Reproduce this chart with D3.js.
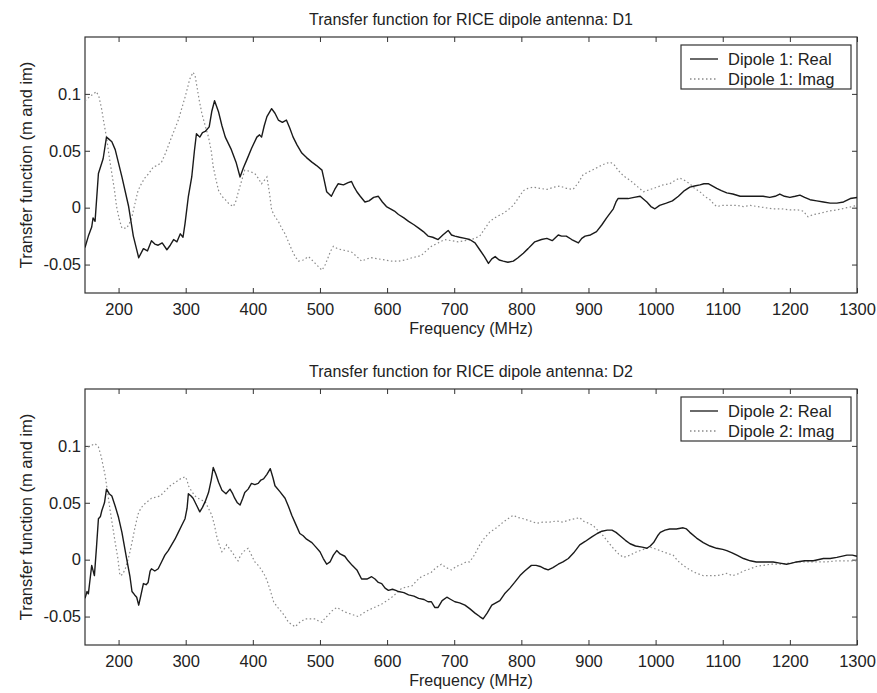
<!DOCTYPE html>
<html>
<head>
<meta charset="utf-8">
<script src="https://cdn.jsdelivr.net/npm/d3@7"></script>
<style>
  body { margin: 0; background: #fff; }
  svg { display: block; font-family: Arial, "Liberation Sans", sans-serif; }
</style>
</head>
<body>
<svg id="chart" width="877" height="693"></svg>
<script>
// ####################################################################################
// Data : [frequency MHz, transfer function]

var d1Real = [[150,-0.035],[155,-0.025],[160,-0.017],[162,-0.009],[165,-0.012],[170,0.030],[177,0.043],[182,0.062],[186,0.060],[190,0.058],[195,0.051],[205,0.027],[215,0.001],[222,-0.025],[230,-0.044],[237,-0.036],[243,-0.038],[249,-0.029],[254,-0.032],[259,-0.033],[265,-0.031],[272,-0.037],[277,-0.033],[282,-0.028],[287,-0.030],[292,-0.023],[296,-0.026],[299,-0.014],[304,0.010],[309,0.027],[313,0.050],[316,0.065],[321,0.062],[325,0.066],[329,0.067],[335,0.071],[339,0.085],[343,0.094],[349,0.084],[354,0.072],[359,0.062],[368,0.051],[375,0.040],[381,0.027],[386,0.035],[391,0.042],[398,0.052],[406,0.062],[410,0.064],[413,0.062],[417,0.072],[421,0.080],[428,0.087],[433,0.083],[438,0.077],[444,0.075],[450,0.077],[455,0.070],[460,0.062],[466,0.055],[473,0.048],[480,0.044],[488,0.040],[495,0.037],[503,0.033],[506,0.025],[510,0.014],[517,0.010],[522,0.016],[527,0.021],[535,0.020],[542,0.022],[547,0.023],[551,0.018],[555,0.014],[560,0.010],[567,0.005],[573,0.006],[580,0.009],[587,0.010],[593,0.005],[599,0.001],[605,-0.001],[611,-0.003],[617,-0.006],[625,-0.009],[632,-0.012],[640,-0.015],[647,-0.018],[654,-0.021],[661,-0.025],[668,-0.026],[676,-0.028],[683,-0.024],[691,-0.020],[696,-0.024],[701,-0.025],[708,-0.026],[716,-0.027],[723,-0.028],[731,-0.031],[738,-0.037],[745,-0.043],[751,-0.049],[756,-0.045],[761,-0.043],[767,-0.046],[773,-0.047],[780,-0.048],[788,-0.047],[795,-0.044],[803,-0.040],[810,-0.036],[815,-0.033],[820,-0.030],[830,-0.028],[838,-0.027],[846,-0.029],[855,-0.024],[860,-0.025],[867,-0.025],[875,-0.028],[885,-0.031],[890,-0.027],[895,-0.025],[903,-0.024],[912,-0.021],[920,-0.015],[927,-0.009],[932,-0.005],[937,-0.001],[941,0.005],[944,0.008],[950,0.008],[959,0.008],[968,0.009],[977,0.010],[983,0.007],[987,0.005],[993,0.001],[999,-0.001],[1006,0.002],[1016,0.004],[1025,0.006],[1034,0.010],[1043,0.015],[1051,0.018],[1058,0.019],[1066,0.020],[1072,0.021],[1079,0.021],[1085,0.019],[1091,0.017],[1098,0.015],[1106,0.013],[1115,0.012],[1126,0.010],[1140,0.010],[1150,0.010],[1160,0.010],[1170,0.009],[1178,0.010],[1185,0.012],[1192,0.010],[1200,0.009],[1208,0.010],[1215,0.011],[1222,0.009],[1230,0.007],[1240,0.006],[1250,0.005],[1260,0.004],[1270,0.004],[1280,0.005],[1290,0.008],[1300,0.009]];

var d1Imag = [[150,0.094],[158,0.098],[167,0.102],[171,0.097],[175,0.086],[178,0.075],[182,0.062],[186,0.045],[190,0.030],[194,0.015],[197,0.001],[201,-0.010],[205,-0.018],[212,-0.018],[216,-0.014],[220,-0.008],[225,0.005],[229,0.015],[234,0.021],[239,0.026],[245,0.030],[252,0.036],[258,0.037],[264,0.040],[270,0.048],[277,0.059],[283,0.068],[289,0.077],[294,0.087],[299,0.097],[303,0.106],[306,0.113],[311,0.119],[314,0.116],[316,0.109],[320,0.095],[324,0.083],[329,0.072],[334,0.062],[338,0.050],[341,0.036],[345,0.025],[349,0.015],[354,0.010],[359,0.007],[365,0.003],[371,0.001],[375,0.006],[378,0.013],[383,0.023],[388,0.033],[395,0.032],[403,0.030],[408,0.026],[413,0.021],[417,0.024],[421,0.027],[425,0.012],[428,-0.002],[433,-0.008],[438,-0.012],[443,-0.018],[448,-0.023],[453,-0.030],[458,-0.037],[463,-0.043],[468,-0.047],[475,-0.046],[483,-0.043],[488,-0.046],[493,-0.049],[498,-0.052],[503,-0.055],[508,-0.050],[512,-0.044],[516,-0.038],[520,-0.034],[526,-0.036],[532,-0.037],[540,-0.038],[547,-0.039],[555,-0.043],[562,-0.047],[570,-0.045],[577,-0.044],[587,-0.045],[597,-0.046],[607,-0.047],[617,-0.047],[627,-0.046],[637,-0.044],[645,-0.043],[651,-0.042],[658,-0.038],[666,-0.034],[676,-0.031],[686,-0.028],[696,-0.029],[706,-0.030],[716,-0.029],[726,-0.028],[738,-0.025],[745,-0.019],[753,-0.012],[763,-0.008],[773,-0.005],[780,-0.002],[788,0.002],[795,0.008],[803,0.015],[810,0.017],[818,0.018],[828,0.017],[838,0.016],[848,0.018],[857,0.019],[867,0.017],[877,0.016],[885,0.022],[892,0.029],[902,0.032],[912,0.035],[922,0.038],[932,0.040],[938,0.038],[944,0.033],[952,0.028],[962,0.024],[972,0.019],[982,0.014],[992,0.016],[1002,0.018],[1011,0.020],[1021,0.021],[1029,0.024],[1036,0.026],[1043,0.024],[1051,0.021],[1058,0.017],[1066,0.014],[1073,0.010],[1081,0.007],[1087,0.003],[1091,0.001],[1100,0.002],[1111,0.002],[1121,0.002],[1131,0.001],[1141,0.002],[1151,0.001],[1163,0.000],[1175,-0.001],[1188,-0.001],[1200,-0.002],[1212,-0.002],[1220,-0.003],[1227,-0.008],[1235,-0.006],[1245,-0.005],[1258,-0.003],[1270,-0.002],[1285,0.000],[1300,0.002]];

var d2Real = [[150,-0.034],[153,-0.028],[155,-0.030],[158,-0.015],[160,-0.005],[164,-0.014],[167,0.010],[170,0.036],[173,0.038],[175,0.043],[179,0.050],[182,0.062],[186,0.058],[190,0.056],[195,0.047],[200,0.037],[205,0.024],[212,0.001],[217,-0.015],[220,-0.028],[224,-0.031],[227,-0.033],[230,-0.040],[233,-0.032],[237,-0.021],[241,-0.022],[244,-0.020],[247,-0.010],[249,-0.008],[254,-0.010],[259,-0.008],[264,-0.002],[269,0.004],[274,0.008],[279,0.013],[284,0.018],[289,0.024],[294,0.030],[299,0.036],[302,0.045],[304,0.058],[308,0.056],[311,0.054],[316,0.048],[321,0.042],[325,0.046],[329,0.051],[334,0.059],[338,0.070],[341,0.081],[345,0.075],[349,0.068],[354,0.061],[360,0.058],[366,0.062],[370,0.058],[373,0.054],[377,0.050],[381,0.048],[385,0.054],[388,0.059],[393,0.062],[398,0.067],[403,0.066],[408,0.067],[412,0.070],[416,0.071],[421,0.075],[426,0.080],[430,0.072],[433,0.065],[440,0.060],[448,0.054],[453,0.047],[458,0.039],[464,0.031],[470,0.023],[475,0.021],[480,0.018],[488,0.015],[494,0.011],[500,0.007],[505,0.001],[510,-0.004],[515,-0.002],[520,0.004],[525,0.008],[530,0.005],[537,0.003],[542,-0.001],[548,-0.005],[555,-0.009],[562,-0.017],[570,-0.017],[577,-0.015],[582,-0.017],[587,-0.020],[592,-0.021],[597,-0.025],[602,-0.027],[608,-0.026],[613,-0.027],[617,-0.028],[625,-0.029],[632,-0.031],[640,-0.032],[647,-0.034],[655,-0.035],[661,-0.037],[666,-0.037],[671,-0.042],[676,-0.042],[682,-0.036],[689,-0.033],[695,-0.035],[701,-0.037],[708,-0.038],[716,-0.040],[723,-0.043],[731,-0.047],[738,-0.050],[743,-0.052],[749,-0.047],[756,-0.040],[762,-0.038],[768,-0.036],[775,-0.030],[783,-0.025],[790,-0.020],[798,-0.014],[805,-0.010],[815,-0.005],[822,-0.005],[828,-0.006],[835,-0.008],[840,-0.009],[847,-0.007],[855,-0.004],[862,-0.002],[870,0.001],[878,0.006],[887,0.013],[895,0.016],[905,0.020],[913,0.023],[920,0.025],[928,0.026],[935,0.026],[941,0.024],[947,0.021],[955,0.017],[962,0.014],[970,0.012],[980,0.011],[987,0.010],[992,0.012],[997,0.015],[1003,0.021],[1007,0.024],[1014,0.026],[1021,0.027],[1031,0.027],[1041,0.028],[1046,0.027],[1051,0.024],[1061,0.019],[1071,0.015],[1081,0.012],[1091,0.010],[1100,0.009],[1106,0.008],[1114,0.006],[1121,0.004],[1131,0.001],[1141,-0.001],[1150,-0.002],[1160,-0.002],[1175,-0.002],[1185,-0.003],[1195,-0.004],[1203,-0.003],[1210,-0.002],[1222,-0.001],[1235,-0.001],[1250,0.001],[1260,0.001],[1270,0.002],[1285,0.004],[1293,0.004],[1300,0.003]];

var d2Imag = [[150,0.097],[158,0.100],[165,0.102],[170,0.099],[174,0.091],[180,0.074],[184,0.058],[187,0.045],[191,0.030],[195,0.015],[199,0.001],[202,-0.014],[206,-0.013],[210,-0.008],[214,0.000],[217,0.007],[221,0.018],[224,0.027],[229,0.040],[233,0.045],[237,0.048],[243,0.051],[249,0.054],[256,0.055],[262,0.056],[267,0.059],[272,0.062],[277,0.065],[282,0.067],[287,0.069],[292,0.071],[296,0.072],[299,0.073],[302,0.070],[304,0.065],[309,0.060],[314,0.056],[321,0.053],[329,0.051],[334,0.045],[339,0.039],[343,0.030],[346,0.021],[350,0.013],[354,0.007],[358,0.010],[361,0.013],[366,0.009],[371,0.005],[375,0.001],[378,-0.001],[382,0.004],[386,0.007],[390,0.009],[393,0.010],[398,0.004],[403,-0.002],[408,-0.005],[413,-0.009],[417,-0.013],[421,-0.018],[426,-0.027],[431,-0.037],[437,-0.042],[443,-0.046],[448,-0.050],[453,-0.055],[458,-0.057],[463,-0.059],[470,-0.055],[478,-0.052],[485,-0.052],[493,-0.052],[498,-0.054],[503,-0.055],[508,-0.051],[512,-0.049],[518,-0.045],[525,-0.042],[531,-0.044],[537,-0.046],[547,-0.048],[557,-0.050],[567,-0.046],[577,-0.043],[585,-0.041],[592,-0.039],[600,-0.036],[607,-0.033],[615,-0.029],[622,-0.025],[630,-0.024],[637,-0.023],[645,-0.018],[651,-0.015],[659,-0.013],[666,-0.011],[673,-0.007],[681,-0.004],[688,-0.007],[696,-0.009],[703,-0.006],[711,-0.004],[718,-0.002],[723,-0.002],[730,0.004],[738,0.013],[745,0.019],[753,0.024],[763,0.028],[773,0.033],[780,0.036],[788,0.039],[795,0.037],[803,0.036],[813,0.034],[823,0.032],[832,0.033],[842,0.033],[852,0.034],[862,0.033],[872,0.035],[880,0.036],[887,0.037],[892,0.034],[900,0.032],[907,0.030],[915,0.025],[922,0.021],[930,0.015],[937,0.010],[945,0.005],[952,0.002],[962,0.004],[972,0.007],[982,0.009],[992,0.011],[1002,0.009],[1011,0.007],[1020,0.005],[1026,0.004],[1033,-0.001],[1041,-0.005],[1046,-0.007],[1051,-0.009],[1061,-0.012],[1071,-0.014],[1081,-0.014],[1091,-0.014],[1100,-0.013],[1106,-0.012],[1114,-0.014],[1121,-0.013],[1131,-0.010],[1141,-0.008],[1150,-0.006],[1160,-0.005],[1172,-0.004],[1185,-0.004],[1198,-0.003],[1210,-0.002],[1225,-0.002],[1240,-0.002],[1255,-0.002],[1270,-0.001],[1285,-0.001],[1300,-0.001]];

var xTicks = [200,300,400,500,600,700,800,900,1000,1100,1200,1300];
var yTicks = [-0.05,0,0.05,0.1];
var xDomain = [150,1300];
var yDomain = [-0.075,0.15];

var panels = [
  {id:'p1', title:'Transfer  function for RICE dipole antenna: D1', real:d1Real, imag:d1Imag,
   legend:['Dipole 1: Real','Dipole 1: Imag'], top:37},
  {id:'p2', title:'Transfer  function for RICE dipole antenna: D2', real:d2Real, imag:d2Imag,
   legend:['Dipole 2: Real','Dipole 2: Imag'], top:389}
];

// ####################################################################################
// Layout
var chartDim = {left:85, width:772, height:256};
var textCol = '#222';

var svg = d3.select('#chart');

var xScale = d3.scaleLinear().domain(xDomain).range([0, chartDim.width]);
var yScale = d3.scaleLinear().domain(yDomain).range([chartDim.height, 0]);

var lineGen = d3.line().x(d => xScale(d[0])).y(d => yScale(d[1]));

function draw_panel(p) {
  var g = svg.append('g')
    .attr('transform', `translate(${chartDim.left},${p.top})`);

  g.append('clipPath').attr('id', `clip_${p.id}`)
    .append('rect').attr('width', chartDim.width).attr('height', chartDim.height);

  // title
  g.append('text')
    .attr('x', chartDim.width/2).attr('y', -12)
    .attr('text-anchor', 'middle')
    .style('font-size', '16px').style('fill', textCol)
    .text(p.title);

  // axes, ticks pointing inward like matlab
  var xb = g.append('g').attr('class','x_axis')
    .attr('transform', `translate(0,${chartDim.height})`)
    .call(d3.axisBottom(xScale).tickValues(xTicks).tickSize(-5).tickPadding(10).tickFormat(d3.format('d')));
  var xt = g.append('g').call(d3.axisTop(xScale).tickValues(xTicks).tickSize(-5).tickFormat(''));
  var yl = g.append('g').attr('class','y_axis')
    .call(d3.axisLeft(yScale).tickValues(yTicks).tickSize(-5).tickPadding(4)
      .tickFormat(d => d === 0 ? '0' : String(d)));
  var yr = g.append('g').attr('transform', `translate(${chartDim.width},0)`)
    .call(d3.axisRight(yScale).tickValues(yTicks).tickSize(-5).tickFormat(''));

  [xb, xt, yl, yr].forEach(a => {
    a.select('.domain').remove();
    a.selectAll('line').attr('stroke', '#333');
    a.selectAll('text').style('font-size', '16.5px').style('fill', textCol).attr('font-family', null);
  });

  // box
  g.append('rect')
    .attr('width', chartDim.width).attr('height', chartDim.height)
    .attr('fill', 'none').attr('stroke', '#333').attr('stroke-width', 1.2);

  // axis labels
  g.append('text')
    .attr('x', chartDim.width/2).attr('y', chartDim.height + 41)
    .attr('text-anchor', 'middle')
    .style('font-size', '16px').style('fill', textCol)
    .text('Frequency (MHz)');

  g.append('text')
    .attr('transform', `translate(${32 - chartDim.left},${chartDim.height/2}) rotate(-90)`)
    .attr('text-anchor', 'middle')
    .style('font-size', '16.5px').style('fill', textCol)
    .text('Transfer  function (m and im)');

  // curves
  var plot = g.append('g').attr('clip-path', `url(#clip_${p.id})`);
  plot.append('path').datum(p.imag)
    .attr('d', lineGen).attr('fill', 'none')
    .attr('stroke', '#8a8a8a').attr('stroke-width', 1.2).attr('stroke-dasharray', '1.5,2.5');
  plot.append('path').datum(p.real)
    .attr('d', lineGen).attr('fill', 'none')
    .attr('stroke', '#1a1a1a').attr('stroke-width', 1.4).attr('stroke-linejoin', 'round');

  // legend
  var lg = g.append('g').attr('transform', `translate(${681 - chartDim.left},8)`);
  lg.append('rect').attr('width', 170).attr('height', 44)
    .attr('fill', '#fff').attr('stroke', '#333').attr('stroke-width', 1.2);
  var rows = [{lab:p.legend[0], dash:null, col:'#1a1a1a'}, {lab:p.legend[1], dash:'1.5,2.5', col:'#8a8a8a'}];
  rows.forEach((r,i) => {
    var yy = 14 + i*20;
    lg.append('line').attr('x1', 9).attr('x2', 37).attr('y1', yy).attr('y2', yy)
      .attr('stroke', r.col).attr('stroke-width', 1.3).attr('stroke-dasharray', r.dash);
    lg.append('text').attr('x', 47).attr('y', yy).attr('dy', '0.36em')
      .style('font-size', '16.5px').style('fill', textCol).text(r.lab);
  });
}

panels.forEach(draw_panel);
</script>
</body>
</html>
